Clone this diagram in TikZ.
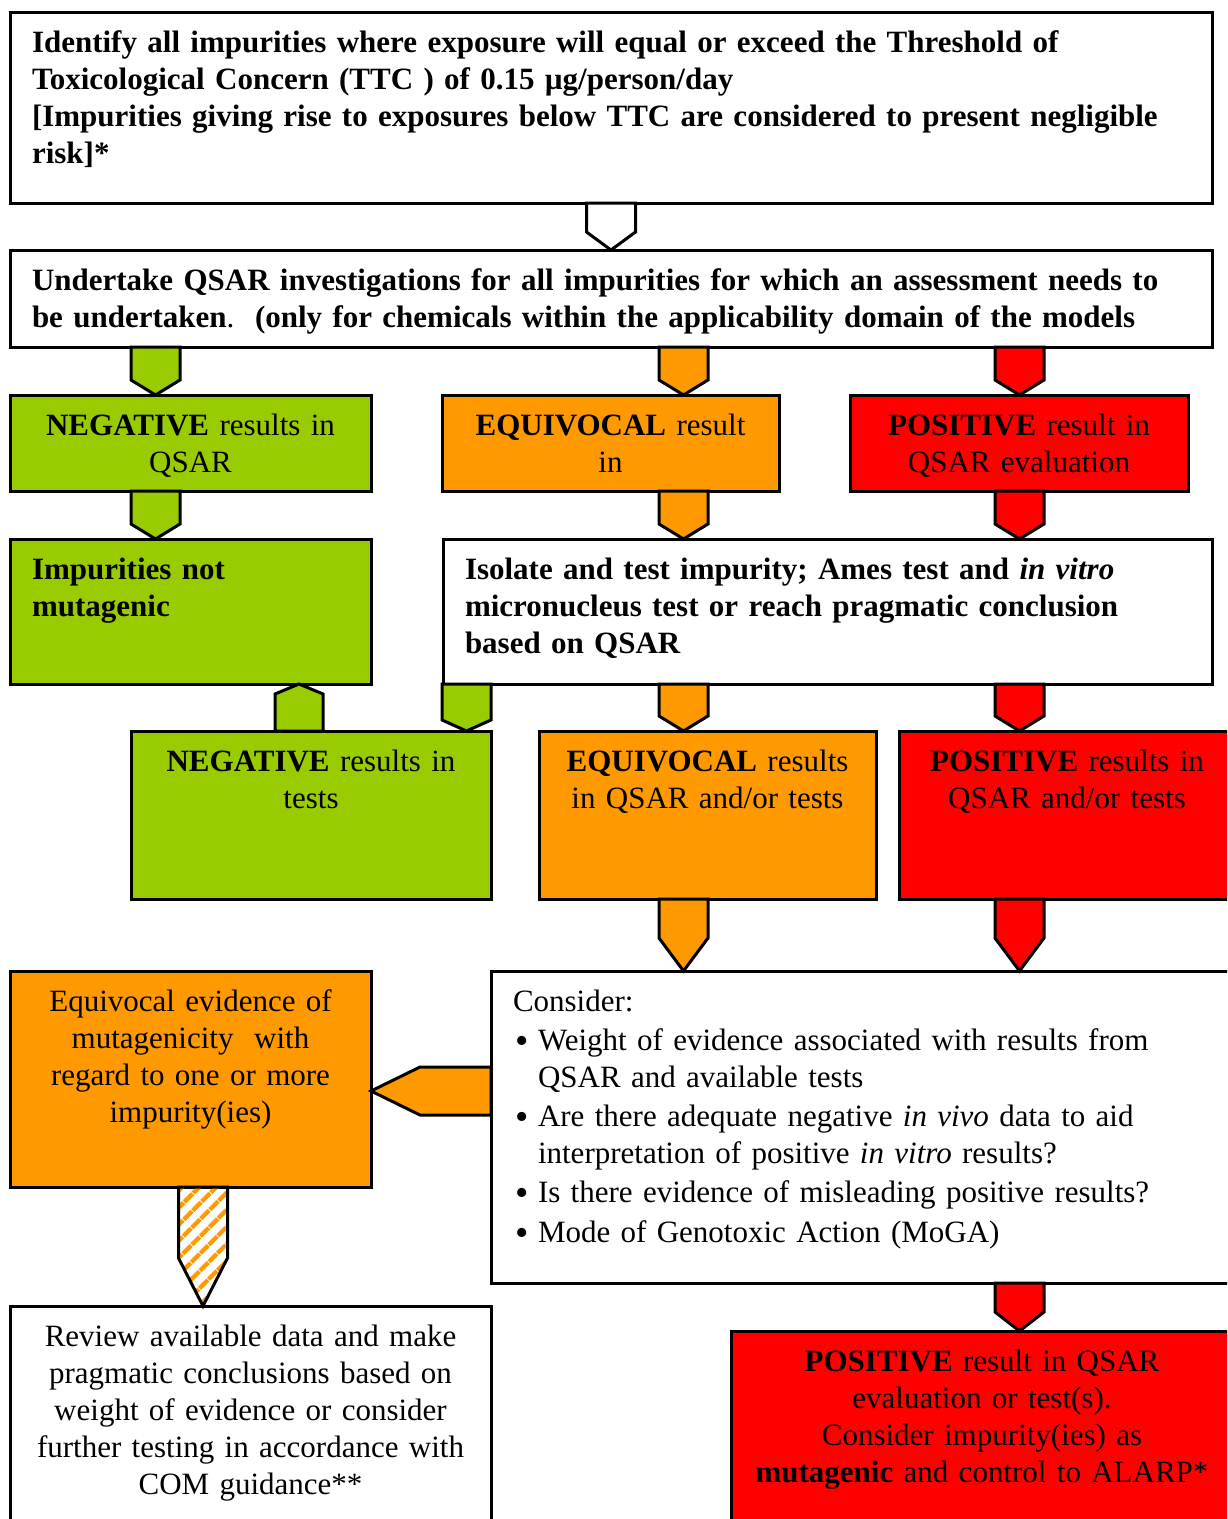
\documentclass[tikz,border=0pt]{standalone}
\usepackage{fontspec}
\setmainfont{Liberation Serif}
\usetikzlibrary{calc,patterns.meta}
\hyphenpenalty=10000
\exhyphenpenalty=10000

\definecolor{gfill}{HTML}{99CC00}
\definecolor{ofill}{HTML}{FF9900}
\definecolor{rfill}{HTML}{FF0000}

\tikzset{
	box/.style={draw, line width=3pt, anchor=north west, outer sep=0pt, inner ysep=0pt,
		text height=40pt, font=\fontsize{31pt}{37pt}\selectfont},
	cbox/.style={box, align=center, inner xsep=10pt},
	lbox/.style={box, align=left, inner xsep=22pt},
	blockarrow/.style={draw, line width=3pt, line join=miter, fill=white},
	hatch/.style={pattern={Lines[angle=45,distance=13pt,line width=5pt]}, pattern color=ofill},
}

% block arrows: [style]{column}{from}{to}{tip length}
\newcommand\blockdn[5][]{%
	\path[blockarrow,#1] ($(#2 |- #3.south)+(-24.5,0)$) -- ($(#2 |- #3.south)+(24.5,0)$)
		-- ($(#2 |- #4.north)+(24.5,-#5)$) -- (#2 |- #4.north)
		-- ($(#2 |- #4.north)+(-24.5,-#5)$) -- cycle;}
\newcommand\blockup[5][]{%
	\path[blockarrow,#1] ($(#2 |- #3.north)+(-24,0)$) -- ($(#2 |- #3.north)+(24,0)$)
		-- ($(#2 |- #4.south)+(24,#5)$) -- (#2 |- #4.south)
		-- ($(#2 |- #4.south)+(-24,#5)$) -- cycle;}
\newcommand\blockleft[5][]{%
	\path[blockarrow,#1] ($(#3.west |- #2)+(0,-24)$) -- ($(#3.west |- #2)+(0,24)$)
		-- ($(#4.east |- #2)+(#5,24)$) -- (#4.east |- #2)
		-- ($(#4.east |- #2)+(#5,-24)$) -- cycle;}
\newcommand\bulletitem{\makebox[25pt][l]{\hspace{2pt}\raisebox{-3pt}{\fontsize{38pt}{36.5pt}\selectfont\textbullet}}}

\begin{document}
\begin{tikzpicture}[x=1pt,y=-1pt]
	\path[use as bounding box] (0,0) rectangle (1227,1519);
	\clip (0,0) rectangle (1227,1519);

	% boxes
	\node[lbox, text width=1158pt, text depth=151pt] (ttc) at (10,12)
		{\textbf{Identify all impurities where exposure will equal or exceed the Threshold of}\\
		\textbf{Toxicological Concern (TTC ) of 0.15 µg/person/day}\\
		\textbf{[Impurities giving rise to exposures below TTC are considered to present negligible}\\
		\textbf{risk]*}};
	\node[lbox, text width=1158pt, text depth=57pt] (qsar) at (10,250)
		{\textbf{Undertake QSAR investigations for all impurities for which an assessment needs to}\\
		\textbf{be undertaken}.\ \ \textbf{(only for chemicals within the applicability domain of the models}};

	\node[cbox, fill=gfill, text width=341pt, text depth=56pt] (neg1) at (10,395)
		{\textbf{NEGATIVE} results in\\QSAR};
	\node[cbox, fill=ofill, text width=317pt, text depth=56pt] (equ1) at (442,395)
		{\textbf{EQUIVOCAL} result\\in};
	\node[cbox, fill=rfill, text width=318pt, text depth=56pt] (pos1) at (850,395)
		{\textbf{POSITIVE} result in\\QSAR evaluation};

	\node[lbox, fill=gfill, text width=317pt, text depth=105pt] (notmut) at (10,539)
		{\textbf{Impurities not}\\\textbf{mutagenic}};
	\node[lbox, text width=725pt, text depth=105pt] (isolate) at (443,539)
		{\textbf{Isolate and test impurity; Ames test and \textit{in vitro}}\\
		\textbf{micronucleus test or reach pragmatic conclusion}\\
		\textbf{based on QSAR}};

	\node[cbox, fill=gfill, text width=340pt, text depth=128pt] (neg2) at (131,731)
		{\textbf{NEGATIVE} results in\\tests};
	\node[cbox, fill=ofill, text width=317pt, text depth=128pt] (equ2) at (539,731)
		{\textbf{EQUIVOCAL} results\\in QSAR and/or tests};
	\node[cbox, fill=rfill, text width=316pt, text depth=128pt] (pos2) at (899,731)
		{\textbf{POSITIVE} results in\\QSAR and/or tests};

	\node[cbox, fill=ofill, text width=341pt, text depth=176pt] (equ3) at (10,971)
		{Equivocal evidence of\\mutagenicity~ with\\regard to one or more\\impurity(ies)};
	\node[lbox, text width=700pt, text depth=272pt, font=\fontsize{31pt}{36.5pt}\selectfont] (consider) at (491,971)
		{Consider:\\[3pt]
		\bulletitem Weight of evidence associated with results from\\
		\hspace*{25pt}QSAR and available tests\\[3pt]
		\bulletitem Are there adequate negative \textit{in vivo} data to aid\\
		\hspace*{25pt}interpretation of positive \textit{in vitro} results?\\[3pt]
		\bulletitem Is there evidence of misleading positive results?\\[3pt]
		\bulletitem Mode of Genotoxic Action (MoGA)};

	\node[cbox, text width=461pt, text depth=180pt] (review) at (10,1306)
		{Review available data and make\\pragmatic conclusions based on\\weight of evidence or consider\\
		further testing in accordance with\\COM guidance**};
	\node[cbox, fill=rfill, text width=482pt, text depth=160pt] (pos3) at (731,1331)
		{\textbf{POSITIVE} result in QSAR\\evaluation or test(s).\\Consider impurity(ies) as\\
		\textbf{mutagenic} and control to ALARP*};

	% arrow columns
	\coordinate (cmid) at (611,0);
	\coordinate (cg) at (155.5,0);
	\coordinate (co) at (683.5,0);
	\coordinate (cr) at (1019.5,0);
	\coordinate (cup) at (299,0);
	\coordinate (cdn) at (466.5,0);
	\coordinate (chatch) at (203,0);
	\coordinate (rowl) at (0,1091);

	\blockdn{cmid}{ttc}{qsar}{18}
	\blockdn[fill=gfill]{cg}{qsar}{neg1}{15}
	\blockdn[fill=ofill]{co}{qsar}{equ1}{15}
	\blockdn[fill=rfill]{cr}{qsar}{pos1}{15}
	\blockdn[fill=gfill]{cg}{neg1}{notmut}{15}
	\blockdn[fill=ofill]{co}{equ1}{isolate}{15}
	\blockdn[fill=rfill]{cr}{pos1}{isolate}{15}
	\blockup[fill=gfill]{cup}{neg2}{notmut}{10}
	\blockdn[fill=gfill]{cdn}{isolate}{neg2}{11}
	\blockdn[fill=ofill]{co}{isolate}{equ2}{15}
	\blockdn[fill=rfill]{cr}{isolate}{pos2}{15}
	\blockdn[fill=ofill]{co}{equ2}{consider}{33}
	\blockdn[fill=rfill]{cr}{pos2}{consider}{33}
	\blockleft[fill=ofill]{rowl}{consider}{equ3}{49}
	\blockdn[hatch]{chatch}{equ3}{review}{48}
	\blockdn[fill=rfill]{cr}{consider}{pos3}{19}
\end{tikzpicture}
\end{document}
